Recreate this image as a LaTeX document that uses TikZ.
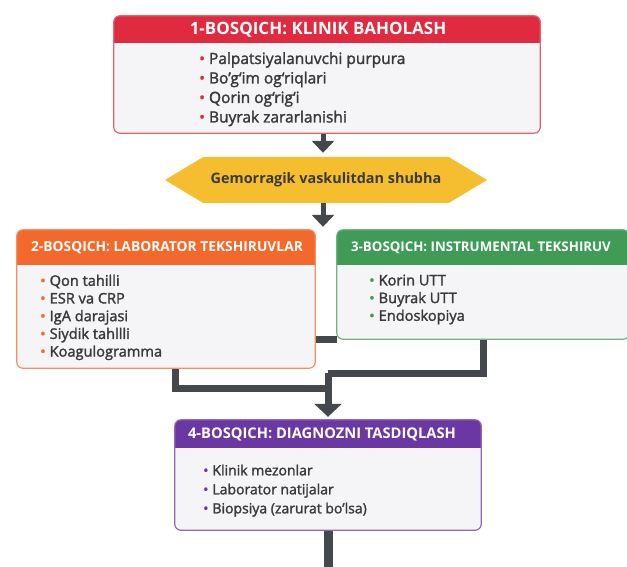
\documentclass[tikz,border=0pt]{standalone}
\usepackage{fontspec}
\setmainfont{Open Sans}
\newfontfamily\itemfont[FakeBold=1.8]{Open Sans}
\usetikzlibrary{arrows.meta,shapes.symbols}

\definecolor{stageone}{HTML}{E02A3F}
\definecolor{stagetwo}{HTML}{F3692B}
\definecolor{stagethree}{HTML}{3F9B55}
\definecolor{stagefour}{HTML}{6B38A3}
\definecolor{suspyellow}{HTML}{F5BE2F}
\definecolor{bodygray}{HTML}{F5F5F7}
\definecolor{linkgray}{HTML}{44484C}
\definecolor{textgray}{HTML}{3A3A3A}

\newcommand\bul[1]{\textcolor{#1}{\textbullet}\hspace{4pt}}

\begin{document}
\begin{tikzpicture}[
  x = 1pt, y = -1pt,
  stage/.style = {
    shape = rectangle,
    fill = bodygray,
    rounded corners = 6pt,
    inner sep = 0pt,
  },
  headtext/.style = {
    text = white,
    font = \bfseries\fontsize{#1}{#1}\selectfont,
    inner sep = 0pt
  },
  items/.style 2 args = {
    anchor = north west,
    align = left,
    inner sep = 0pt,
    text = textgray,
    font = \itemfont\fontsize{#1}{#2}\selectfont
  },
  hexa/.style = {
    shape = signal,
    signal to = east and west,
    signal pointer angle = 62,
    fill = suspyellow,
    minimum width = 322pt,
    minimum height = 46pt,
    inner sep = 0pt,
    text = textgray,
    font = \bfseries\fontsize{14.4}{14.4}\selectfont
  },
  link/.style = {
    draw = linkgray,
    line width = 7pt,
    line join = miter
  },
  step arrow/.style = {
    draw = linkgray,
    line width = 5pt,
    -{Triangle[width = 22pt, length = 12pt]}
  }
]
  \useasboundingbox (0, 0) rectangle (627, 567);
  \fill[white] (0, 0) rectangle (627, 567);

  % stage boxes
  \node[stage, minimum width = 426pt, minimum height = 117pt] (box1) at (327, 74.5) {};
  \node[stage, minimum width = 298pt, minimum height = 138pt] (box2) at (166, 299) {};
  \node[stage, minimum width = 292pt, minimum height = 109pt] (box3) at (483, 284.5) {};
  \node[stage, minimum width = 306pt, minimum height = 110pt] (box4) at (328, 475) {};

  \node[hexa] (susp) at (326, 180) {Gemorragik vaskulitdan shubha};

  % connectors
  \coordinate (m2) at (175, 388);
  \coordinate (m3) at (483, 373);
  \draw[link] (box2.east |- box3.south) -- (box3.south west);
  \draw[link] (box2.south -| m2) -- (m2) -- (m2 -| box4.north);
  \draw[link] (box3.south -| m3) -- (m3) -- (m3 -| box4.north);
  \draw[link, -{Triangle[width = 27pt, length = 13pt]}, shorten > = 3pt]
    (m3 -| box4.north) -- (box4.north);
  \draw[step arrow, shorten > = 4pt] (box1.south -| 323, 0) -- (susp.north -| 323, 0);
  \draw[step arrow, shorten > = 3pt] (susp.south -| 323, 0) -- (box2.north -| 323, 0);
  \draw[linkgray, line width = 9pt] (box4.south) -- (box4.south |- 0, 575);

  % headers and borders
  \foreach \b/\c/\h in {box1/stageone/27, box2/stagetwo/35,
                        box3/stagethree/35, box4/stagefour/28} {
    \begin{scope}
      \clip[rounded corners = 6pt] (\b.south west) rectangle (\b.north east);
      \fill[\c] (\b.north west) rectangle ([yshift = -\h pt]\b.north east);
    \end{scope}
    \draw[\c!75, line width = 1.2pt, rounded corners = 6pt]
      (\b.south west) rectangle (\b.north east);
  }

  \node[headtext = 17] (h1) at (318, 30) {1-BOSQICH: KLINIK BAHOLASH};
  \node[headtext = 13.8] (h2) at (167, 248) {2-BOSQICH: LABORATOR TEKSHIRUVLAR};
  \node[headtext = 13.3] (h3) at (481, 248) {3-BOSQICH: INSTRUMENTAL TEKSHIRUV};
  \node[headtext = 14.7] (h4) at (322, 434.5) {4-BOSQICH: DIAGNOZNI TASDIQLASH};

  % bullet lists
  \node[items = {15.5}{19.5}] (l1) at (199, 52) {%
    \bul{stageone}Palpatsiyalanuvchi purpura\\
    \bul{stageone}Bo’g‘im og‘riqlari\\
    \bul{stageone}Qorin og‘rig‘i\\
    \bul{stageone}Buyrak zararlanishi};
  \node[items = {14.6}{17.7}] (l2) at (40, 274.5) {%
    \bul{stagetwo}Qon tahilli\\
    \bul{stagetwo}ESR va CRP\\
    \bul{stagetwo}IgA darajasi\\
    \bul{stagetwo}Siydik tahllli\\
    \bul{stagetwo}Koagulogramma};
  \node[items = {14.6}{17.7}] (l3) at (369, 274.5) {%
    \bul{stagethree}Korin UTT\\
    \bul{stagethree}Buyrak UTT\\
    \bul{stagethree}Endoskopiya};
  \node[items = {14}{19}] (l4) at (203, 464.5) {%
    \bul{stagefour}Klinik mezonlar\\
    \bul{stagefour}Laborator natijalar\\
    \bul{stagefour}Biopsiya (zarurat bo’lsa)};
\end{tikzpicture}
\end{document}
